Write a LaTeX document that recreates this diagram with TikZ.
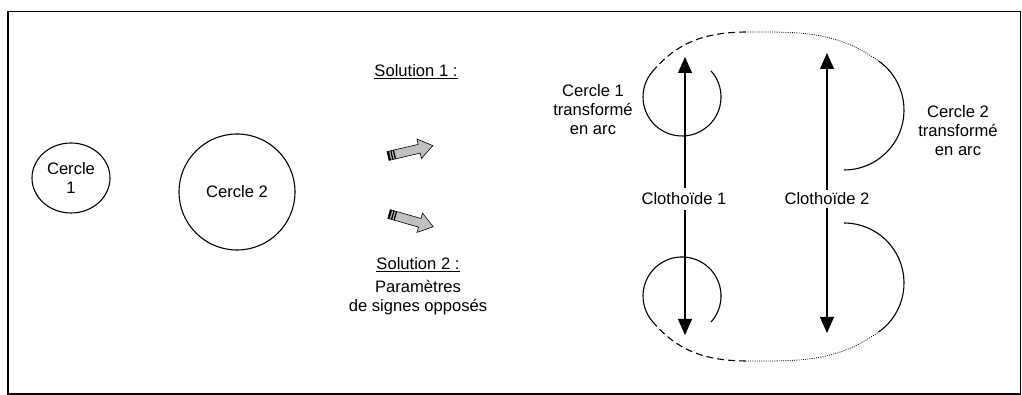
\documentclass[tikz,border=0pt]{standalone}
\usepackage{fontspec}
\setmainfont{Liberation Sans}
\usepackage{tikz}
\usepackage{xcolor}
\usetikzlibrary{arrows.meta,positioning,calc,shapes.geometric}
\definecolor{bloc}{HTML}{C0C0C0}
\definecolor{trait}{HTML}{000000}

\begin{document}
\begin{tikzpicture}[x=1pt,y=1pt,font=\fontsize{16.6}{19}\selectfont,
    line width=1.1pt,
    lbl/.style={align=center,inner sep=0pt},
    clo/.style={-{Triangle[width=14pt,length=16pt]},line width=1.1pt},
    raccord/.style={dash pattern=on 7pt off 4pt,line width=1.1pt},
    pointille/.style={dash pattern=on 0.9pt off 1.3pt,line width=0.8pt}]
  \useasboundingbox (0,0) rectangle (1022,395);
  \draw[line width=1.4pt] (8,1) rectangle (1020.5,383.5);
  % cercles de depart
  \node[draw,ellipse,minimum width=78pt,minimum height=70pt,inner sep=0pt,
        align=center] (c1) at (71,217) {Cercle\\1};
  \node[draw,circle,minimum size=116pt,inner sep=0pt] (c2) at (237,203) {Cercle 2};
  % solutions
  \node[lbl] (sol1) at (416,323) {\underline{Solution 1 :}};
  \node[lbl] (sol2) at (418,130) {\underline{Solution 2 :}};
  \node[lbl] (param) at (418,97) {Param\`etres\\de signes oppos\'es};
  \begin{scope}[shift={(388,239)},rotate=13]
    \filldraw[fill=bloc,line width=0.6pt] (0,-4.5) -- (32,-4.5) -- (32,-10) -- (46,0)
      -- (32,10) -- (32,4.5) -- (0,4.5) -- cycle;
    \fill (0,-4.5) rectangle (2,4.5); \fill (3.3,-4.5) rectangle (4.6,4.5);
    \fill (5.9,-4.5) rectangle (7.2,4.5);
  \end{scope}
  \begin{scope}[shift={(389,181)},rotate=-16]
    \filldraw[fill=bloc,line width=0.6pt] (0,-4.5) -- (32,-4.5) -- (32,-10) -- (46,0)
      -- (32,10) -- (32,4.5) -- (0,4.5) -- cycle;
    \fill (0,-4.5) rectangle (2,4.5); \fill (3.3,-4.5) rectangle (4.6,4.5);
    \fill (5.9,-4.5) rectangle (7.2,4.5);
  \end{scope}
  % clothoides
  \node[inner sep=4pt] (clo1) at (684,196) {Clotho\"ide 1};
  \node[inner sep=4pt] (clo2) at (827,196) {Clotho\"ide 2};
  \coordinate (h1) at (685,338); \coordinate (b1) at (685,60);
  \coordinate (h2) at (827,342); \coordinate (b2) at (827,62);
  \draw[clo] (h1 |- clo1.north) -- (h1);
  \draw[clo] (b1 |- clo1.south) -- (b1);
  \draw[clo] (h2 |- clo2.north) ++(0,-2) -- (h2);
  \draw[clo] (b2 |- clo2.south) ++(0,2) -- (b2);
  % solution 1 : arcs en haut
  \node[lbl] (arc1) at (593,285) {Cercle 1\\transform\'e\\en arc};
  \node[lbl] (arc2) at (958,264) {Cercle 2\\transform\'e\\en arc};
  \draw (682,298) ++(42:39) arc[start angle=42,end angle=-220,radius=39]
    coordinate (p1);
  \coordinate (q1) at (748,363);
  \draw (844,285) ++(55:60) coordinate (r1) arc[start angle=55,end angle=-90,radius=60];
  \draw[raccord] (p1) to[out=50,in=180] (q1);
  \draw[pointille] (q1) to[out=0,in=145] (r1);
  % solution 2 : arcs en bas
  \draw (682,99) ++(-42:39) arc[start angle=-42,end angle=220,radius=39]
    coordinate (p2);
  \coordinate (q2) at (748,34);
  \draw (844,112) ++(-55:60) coordinate (r2) arc[start angle=-55,end angle=90,radius=60];
  \draw[raccord] (p2) to[out=-50,in=180] (q2);
  \draw[pointille] (q2) to[out=0,in=-145] (r2);
\end{tikzpicture}
\end{document}
